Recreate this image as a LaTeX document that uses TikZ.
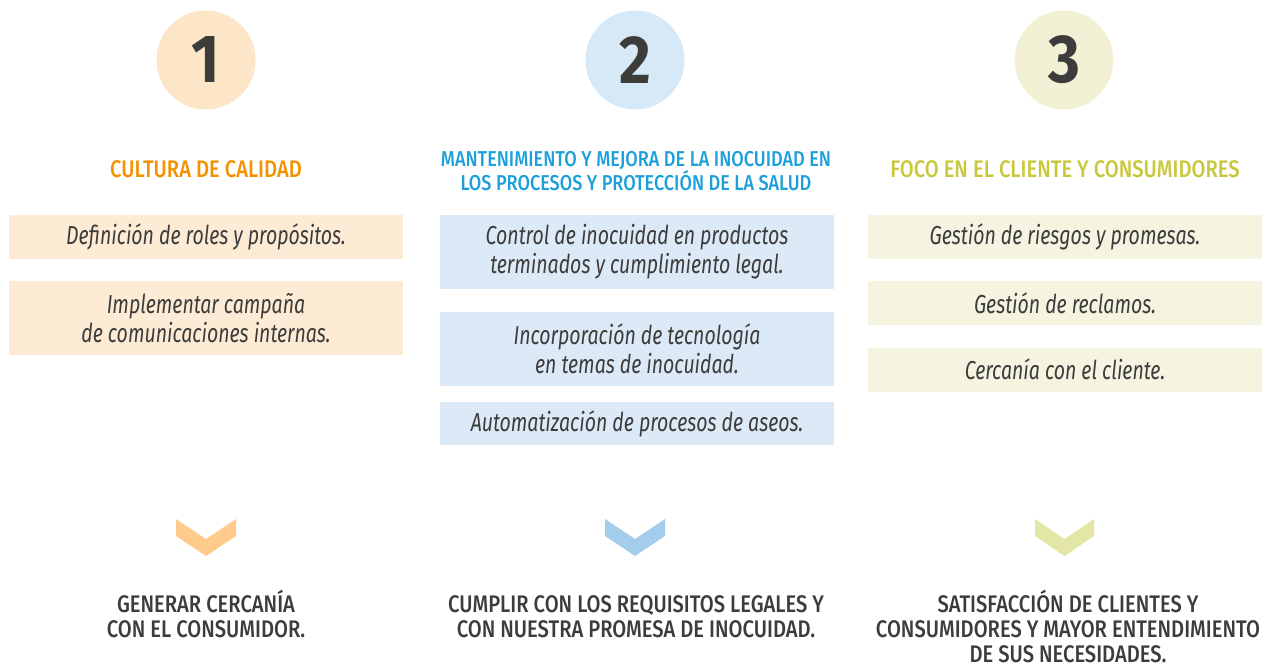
\documentclass[tikz,border=0pt]{standalone}
\usepackage{fontspec}
\setmainfont{Fira Sans}[FakeStretch=0.75]
\newfontfamily\headfont{Fira Sans Medium}[FakeStretch=0.84]
\newfontfamily\numfont{Fira Sans Bold}[FakeStretch=0.9]
\usetikzlibrary{positioning}

\definecolor{txtgray}{HTML}{3C3C3B}
\definecolor{orangehead}{HTML}{F39200}
\definecolor{bluehead}{HTML}{1D9FD9}
\definecolor{olivehead}{HTML}{C9C83C}
\definecolor{orangecirc}{HTML}{FDE5C8}
\definecolor{bluecirc}{HTML}{D7E8F6}
\definecolor{olivecirc}{HTML}{F2F1D5}
\definecolor{orangebox}{HTML}{FDEBD5}
\definecolor{bluebox}{HTML}{DCEAF7}
\definecolor{olivebox}{HTML}{F4F4E0}
\definecolor{orangechev}{HTML}{FECB8C}
\definecolor{bluechev}{HTML}{A4CDEC}
\definecolor{olivechev}{HTML}{E3E6A6}

\begin{document}
\begin{tikzpicture}[x=1pt,y=-1pt,
    numcirc/.style={circle,minimum size=99pt,inner sep=0pt,text=txtgray,
      font=\numfont\fontsize{68}{68}\selectfont},
    head/.style={align=center,anchor=base,font=\headfont\fontsize{24}{24}\selectfont},
    item/.style={minimum width=394pt,inner sep=0pt,align=center,text=txtgray,
      font=\itshape\fontsize{26}{29}\selectfont},
    goal/.style={align=center,anchor=base,text=txtgray,font=\headfont\fontsize{24}{25}\selectfont}]
  \useasboundingbox (0,0) rectangle (1266,666);

  % numbers
  \node[numcirc,fill=orangecirc] (n1) at (206,60) {1};
  \node[numcirc,fill=bluecirc] (n2) at (635,60) {2};
  \node[numcirc,fill=olivecirc] (n3) at (1064,60) {3};

  % headings (base = last line)
  \node[head,text=orangehead] (h1) at (206,177) {CULTURA DE CALIDAD};
  \node[head,text=bluehead,font=\headfont\fontsize{21.5}{24}\selectfont] (h2) at (636,190) {MANTENIMIENTO Y MEJORA DE LA INOCUIDAD EN\\LOS PROCESOS Y PROTECCIÓN DE LA SALUD};
  \node[head,text=olivehead] (h3) at (1065,177) {FOCO EN EL CLIENTE Y CONSUMIDORES};

  % column 1
  \node[item,fill=orangebox,minimum height=44pt] (a1) at (206,237) {Definición de roles y propósitos.};
  \node[item,fill=orangebox,minimum height=74pt] (a2) at (206,318) {Implementar campaña\\de comunicaciones internas.};
  % column 2
  \node[item,fill=bluebox,minimum height=74pt] (b1) at (637,252) {Control de inocuidad en productos\\terminados y cumplimiento legal.};
  \node[item,fill=bluebox,minimum height=74pt] (b2) at (637,349) {Incorporación de tecnología\\en temas de inocuidad.};
  \node[item,fill=bluebox,minimum height=43pt] (b3) at (637,423.5) {Automatización de procesos de aseos.};
  % column 3
  \node[item,fill=olivebox,minimum height=44pt] (c1) at (1065,237) {Gestión de riesgos y promesas.};
  \node[item,fill=olivebox,minimum height=44pt] (c2) at (1065,303) {Gestión de reclamos.};
  \node[item,fill=olivebox,minimum height=44pt] (c3) at (1065,369.5) {Cercanía con el cliente.};

  % chevrons
  \fill[orangechev] (176,519) -- ++(30,20) -- ++(30,-20) -- ++(0,17) -- ++(-30,20) -- ++(-30,-20) -- cycle;
  \fill[bluechev] (605,519) -- ++(30,20) -- ++(30,-20) -- ++(0,17) -- ++(-30,20) -- ++(-30,-20) -- cycle;
  \fill[olivechev] (1035,519) -- ++(29.5,20) -- ++(29.5,-20) -- ++(0,17) -- ++(-29.5,20) -- ++(-29.5,-20) -- cycle;

  % goals (base = last line)
  \node[goal] (g1) at (206,637) {GENERAR CERCANÍA\\CON EL CONSUMIDOR.};
  \node[goal] (g2) at (636,637) {CUMPLIR CON LOS REQUISITOS LEGALES Y\\CON NUESTRA PROMESA DE INOCUIDAD.};
  \node[goal] (g3) at (1068,662) {SATISFACCIÓN DE CLIENTES Y\\CONSUMIDORES Y MAYOR ENTENDIMIENTO\\DE SUS NECESIDADES.};
\end{tikzpicture}
\end{document}
